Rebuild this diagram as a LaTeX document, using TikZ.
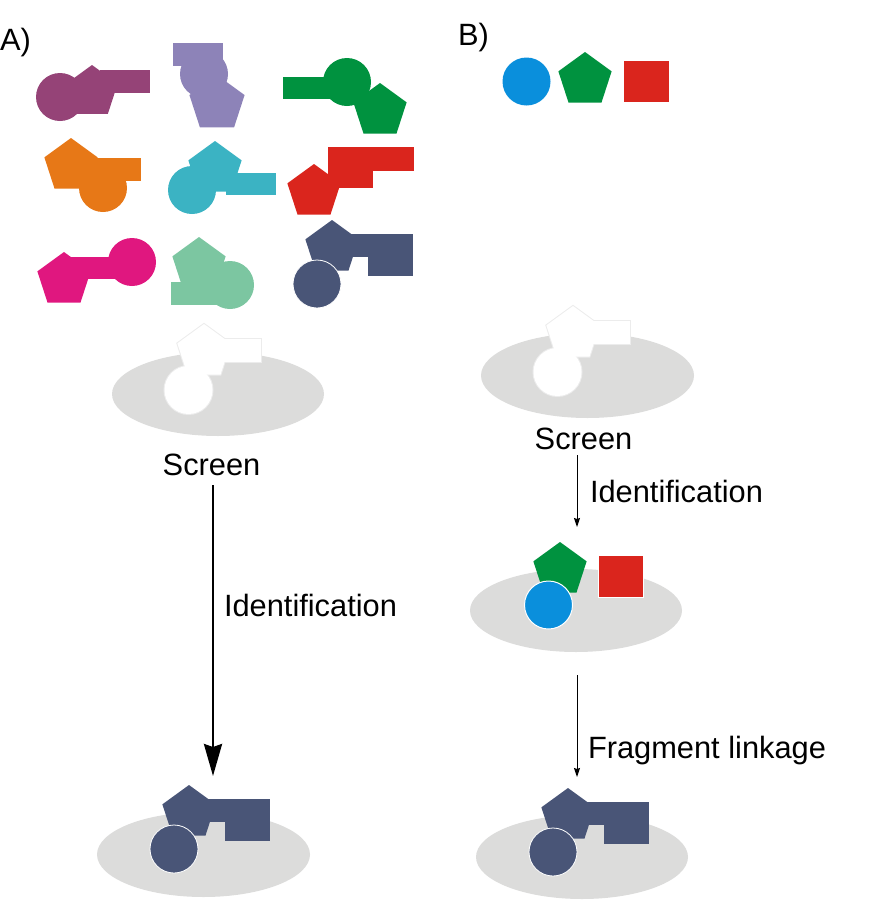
\documentclass[tikz,border=0pt]{standalone}
\usepackage{fontspec}
\setmainfont{Liberation Sans}
\usetikzlibrary{arrows.meta}
\definecolor{cpurple}{HTML}{954377}
\definecolor{clav}{HTML}{8D83B8}
\definecolor{cgreen}{HTML}{00923F}
\definecolor{corange}{HTML}{E77817}
\definecolor{cteal}{HTML}{3BB3C3}
\definecolor{cred}{HTML}{DA251D}
\definecolor{cmag}{HTML}{E0177F}
\definecolor{cmint}{HTML}{7CC6A1}
\definecolor{cnavy}{HTML}{495577}
\definecolor{cblue}{HTML}{0A8FDC}
\definecolor{cplate}{HTML}{DCDCDB}
\definecolor{cedge}{HTML}{ECECEC}
\newcommand\pgon[4]{\fill[#1,shift={(#2,#3)}] (90:#4) -- (162:#4) -- (234:#4) -- (306:#4) -- (18:#4) -- cycle;}
\newcommand\pgonedge[3]{\draw[cedge,line width=1pt,shift={(#1,#2)}] (90:#3) -- (162:#3) -- (234:#3) -- (306:#3) -- (18:#3) -- cycle;}
\newcommand\disc[3]{\fill[#1] (#2,#3) circle[radius=12pt];}
\newcommand\navymol[2]{%
  \pgon{cnavy}{#1}{#2}{14pt}
  \fill[cnavy] (#1,{#2-14}) rectangle ({#1+81},{#2+9});
  \fill[cnavy] ({#1+36},{#2-14}) rectangle ({#1+81},{#2+28});
  \filldraw[fill=cnavy,draw=white,line width=0.4pt] ({#1-15},{#2+36}) circle[radius=12pt];}
\newcommand\pocketshape[2]{%
  \pgonedge{#1}{#2}{14pt}
  \draw[cedge,line width=1pt] (#1,{#2-13}) rectangle ({#1+57},{#2+10});
  \draw[cedge,line width=1pt] ({#1-15.5},{#2+38}) circle[radius=12pt];
  \pgon{white}{#1}{#2}{14pt}
  \fill[white] (#1,{#2-13}) rectangle ({#1+57},{#2+10});
  \fill[white] ({#1-15.5},{#2+38}) circle[radius=12pt];}
\tikzset{
  plate/.style={fill=cplate},
  lbl/.style={inner sep=0pt, outer sep=0pt, font=\fontsize{15.4}{18}\selectfont},
  bigarrow/.style={line width=1.35pt, -{Stealth[length=16pt,width=9pt,inset=1.5pt]}},
  smallarrow/.style={line width=0.5pt, -{Stealth[length=4.5pt,width=3pt,inset=0.5pt]}}
}
\begin{document}
\begin{tikzpicture}[x=0.5pt,y=-0.5pt]
\useasboundingbox (0,0) rectangle (894,900);
% ---------- A: fragment library ----------
% purple
\disc{cpurple}{60}{97}
\pgon{cpurple}{92}{92}{13.5pt}
\fill[cpurple] (100,70) rectangle (150,93);
% lavender
\fill[clav] (173,43) rectangle (223,66);
\disc{clav}{204}{74}
\pgon{clav}{217}{104}{14.5pt}
% green
\fill[cgreen] (283,77) rectangle (340,99);
\disc{cgreen}{347}{82}
\pgon{cgreen}{380}{111}{14pt}
% orange
\pgon{corange}{71}{166}{14pt}
\fill[corange] (90,158) rectangle (141,181);
\disc{corange}{103}{188}
% teal
\pgon{cteal}{215}{169}{14pt}
\disc{cteal}{192}{190}
\fill[cteal] (226,173) rectangle (276,195);
% red
\fill[cred] (328,147) rectangle (414,171);
\fill[cred] (328,147) rectangle (373,188);
\pgon{cred}{314}{192}{14pt}
% magenta
\pgon{cmag}{64}{280}{14pt}
\fill[cmag] (70,257) rectangle (130,279);
\disc{cmag}{132}{262}
% mint
\pgon{cmint}{199}{265}{14pt}
\disc{cmint}{230}{285}
\fill[cmint] (171,282) rectangle (222,305);
% navy
\navymol{332}{248}
% ---------- A: screen ----------
\fill[plate] (218,394) ellipse[x radius=53pt, y radius=21pt];
\pocketshape{204}{352}
\node[lbl, anchor=base] (screenA) at (211.5,475) {Screen};
\coordinate (aS) at (213,485);
\coordinate (aE) at (213,776);
\draw[bigarrow] (aS) -- (aE);
\node[lbl, anchor=base west] (identA) at (224,616) {Identification};
\fill[plate] (203.5,854.5) ellipse[x radius=53.25pt, y radius=21.25pt];
\navymol{189}{813}
\node[lbl, anchor=base west] (labA) at (0,50) {A)};
% ---------- B ----------
\node[lbl, anchor=base west] (labB) at (458,45) {B)};
\disc{cblue}{526.5}{81.5}
\pgon{cgreen}{585}{80}{14pt}
\fill[cred] (624,61) rectangle (669,102);
\fill[plate] (587.5,375.5) ellipse[x radius=53.25pt, y radius=21.25pt];
\pocketshape{573}{334}
\node[lbl, anchor=base] (screenB) at (583.5,449) {Screen};
\coordinate (b1S) at (577,455);
\coordinate (b1E) at (577,527);
\draw[smallarrow] (b1S) -- (b1E);
\node[lbl, anchor=base west] (identB) at (590,502) {Identification};
\fill[plate] (576,610.5) ellipse[x radius=53pt, y radius=20.75pt];
\pgon{cgreen}{560}{570}{14pt}
\filldraw[fill=cblue,draw=white,line width=0.5pt] (548.5,605) circle[radius=12pt];
\filldraw[fill=cred,draw=white,line width=0.3pt] (598,555) rectangle (643,597);
\coordinate (b2S) at (577,675);
\coordinate (b2E) at (577,777);
\draw[smallarrow] (b2S) -- (b2E);
\node[lbl, anchor=base west] (fragB) at (588,758) {Fragment linkage};
\fill[plate] (582,857) ellipse[x radius=53pt, y radius=21pt];
\navymol{568}{816}
\end{tikzpicture}
\end{document}
